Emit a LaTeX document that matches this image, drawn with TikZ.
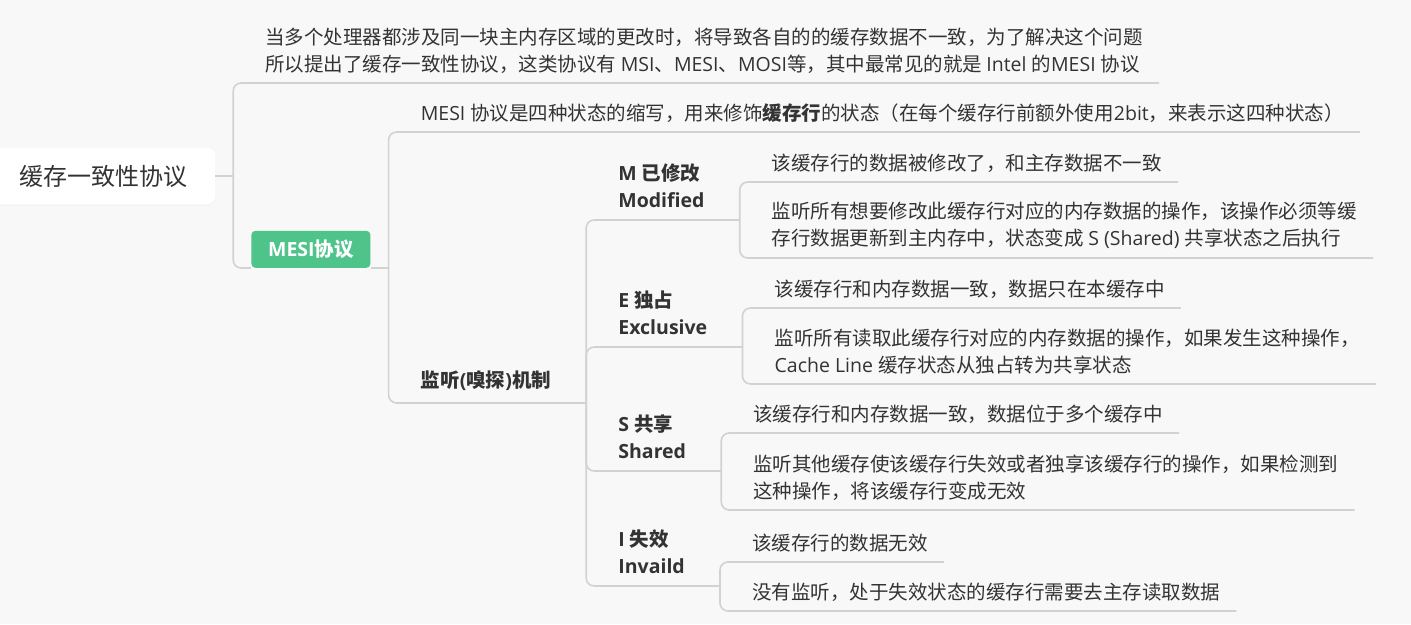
\documentclass[tikz,border=0pt]{standalone}
\usepackage{fontspec}
\setmainfont{Open Sans}
\newfontfamily\latinfont{Open Sans}
\newfontfamily\cjkfont{Noto Sans CJK SC}
\usetikzlibrary{shadows}

\definecolor{bggray}{HTML}{F8F8F8}
\definecolor{linegray}{HTML}{D2D2D2}
\definecolor{textgray}{HTML}{333333}
\definecolor{mesigreen}{HTML}{4FC48A}

% switch to the CJK font for Chinese characters
\XeTeXinterchartokenstate=1
\newXeTeXintercharclass\cjkclass
\newcount\cjkchar
\def\cjkrange#1#2{\cjkchar=#1
  \loop\XeTeXcharclass\cjkchar=\cjkclass
  \ifnum\cjkchar<#2 \advance\cjkchar by 1 \repeat}
\cjkrange{"3000}{"303F}
\cjkrange{"4E00}{"9FFF}
\cjkrange{"FF00}{"FFEF}
\XeTeXinterchartoks 0 \cjkclass={\cjkfont}
\XeTeXinterchartoks 4095 \cjkclass={\cjkfont}
\XeTeXinterchartoks \cjkclass 0={\latinfont}
\XeTeXinterchartoks 4095 0={\latinfont}

\begin{document}
\begin{tikzpicture}
	[x=1pt,y=-1pt,every node/.style={text=textgray, font=\fontsize{19.5}{27}\selectfont}]
	\tikzstyle{link} = [draw=linegray, line width=1.6pt, rounded corners=8pt];
	\tikzstyle{topic} = [anchor=south west, align=left, inner xsep=16pt, inner ysep=9.5pt, xshift=16pt];
	\tikzstyle{state} = [font=\fontsize{19.5}{27}\selectfont\bfseries, inner ysep=12pt];
	\tikzstyle{rootbox} = [fill=white, rounded corners=8pt, minimum width=223pt, minimum height=57pt, font=\fontsize{24}{28}\selectfont, drop shadow={shadow xshift=0pt, shadow yshift=-1pt, opacity=0.06}];
	\tikzstyle{mesibox} = [anchor=south west, fill=mesigreen, text=white, rounded corners=4pt, minimum width=119pt, minimum height=37pt, inner sep=0pt, font=\fontsize{19.5}{24}\selectfont\bfseries];
	
	\useasboundingbox (0,0) rectangle (1411,624);
	\fill[bggray] (0,0) rectangle (1411,624);
	
	\node[rootbox] (root) at (103.5,176) {缓存一致性协议};
	\coordinate (b1) at ([xshift=18pt]root.east);
	
	\node[topic] (why) at (b1 |- 0,83) {当多个处理器都涉及同一块主内存区域的更改时，将导致各自的的缓存数据不一致，为了解决这个问题\\所以提出了缓存一致性协议，这类协议有 MSI、MESI、MOSI等，其中最常见的就是 Intel 的MESI 协议};
	\node[mesibox, xshift=18pt] (mesi) at (b1 |- 0,268) {MESI协议};
	\coordinate (b2) at ([xshift=18pt]mesi.south east);
	
	\node[topic] (abbr) at (b2 |- 0,132) {MESI 协议是四种状态的缩写，用来修饰\textbf{缓存行}的状态（在每个缓存行前额外使用2bit，来表示这四种状态）};
	\node[topic, state] (snoop) at (b2 |- 0,403) {监听(嗅探)机制};
	\coordinate (b3) at ([xshift=19pt]snoop.south east);
	
	\node[topic, state] (mod) at (b3 |- 0,220) {M 已修改\\Modified};
	\node[topic, state] (exc) at (b3 |- 0,347) {E 独占\\Exclusive};
	\node[topic, state] (shr) at (b3 |- 0,471) {S 共享\\Shared};
	\node[topic, state] (inv) at (b3 |- 0,586) {I 失效\\Invaild};
	\coordinate (bm) at ([xshift=19pt]mod.south east);
	\coordinate (be) at ([xshift=19pt]exc.south east);
	\coordinate (bs) at ([xshift=19pt]shr.south east);
	\coordinate (bi) at ([xshift=19pt]inv.south east);
	
	\node[topic] (mod1) at (bm |- 0,182) {该缓存行的数据被修改了，和主存数据不一致};
	\node[topic] (mod2) at (bm |- 0,258) {监听所有想要修改此缓存行对应的内存数据的操作，该操作必须等缓\\存行数据更新到主内存中，状态变成 S (Shared) 共享状态之后执行};
	\node[topic] (exc1) at (be |- 0,308) {该缓存行和内存数据一致，数据只在本缓存中};
	\node[topic] (exc2) at (be |- 0,384) {监听所有读取此缓存行对应的内存数据的操作，如果发生这种操作，\\Cache Line 缓存状态从独占转为共享状态};
	\node[topic] (shr1) at (bs |- 0,433) {该缓存行和内存数据一致，数据位于多个缓存中};
	\node[topic] (shr2) at (bs |- 0,510) {监听其他缓存使该缓存行失效或者独享该缓存行的操作，如果检测到\\这种操作，将该缓存行变成无效};
	\node[topic] (inv1) at (bi |- 0,562) {该缓存行的数据无效};
	\node[topic] (inv2) at (bi |- 0,611) {没有监听，处于失效状态的缓存行需要去主存读取数据};
	
	\draw[link] (root) -- (b1);
	\draw[link] (b1) |- (why.south east);
	\draw[link] (b1) |- (mesi.south west);
	\draw[link] (mesi.south east) -- (b2);
	\draw[link] (b2) |- (abbr.south east);
	\draw[link] (b2) |- (snoop.south east) -- (b3);
	\draw[link] (b3) |- (mod.south east) -- (bm);
	\draw[link] (b3) |- (exc.south east) -- (be);
	\draw[link] (b3) |- (shr.south east) -- (bs);
	\draw[link] (b3) |- (inv.south east) -- (bi);
	\draw[link] (bm) |- (mod1.south east);
	\draw[link] (bm) |- (mod2.south east);
	\draw[link] (be) |- (exc1.south east);
	\draw[link] (be) |- (exc2.south east);
	\draw[link] (bs) |- (shr1.south east);
	\draw[link] (bs) |- (shr2.south east);
	\draw[link] (bi) |- (inv1.south east);
	\draw[link] (bi) |- (inv2.south east);
\end{tikzpicture}
\end{document}
